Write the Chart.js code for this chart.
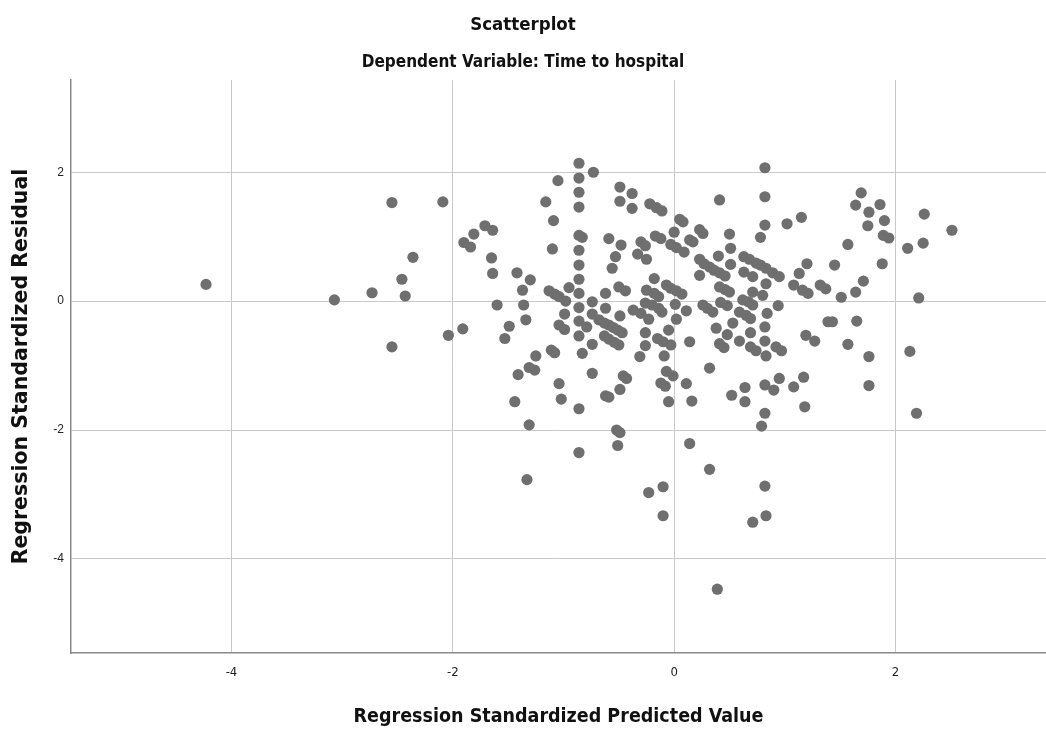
<!DOCTYPE html>
<html>
<head>
<meta charset="utf-8">
<title>Scatterplot</title>
<script src="https://cdn.jsdelivr.net/npm/chart.js@4"></script>
<style>
  html, body { margin: 0; padding: 0; background: #fff; }
  #wrap { width: 1046px; height: 729px; }
</style>
</head>
<body>
<div id="wrap"><canvas id="scatter" width="1046" height="729"></canvas></div>
<script>
// Regression Standardized Predicted Value (x), one line per region of the plot
let predicted = [
  -4.23, -3.07, -2.73, -2.55, -2.55, -2.46, -2.43, -2.36, -2.09, -2.04, -1.91, -1.90, -1.84, -1.81, -1.71, -1.64, -1.65, -1.64, -1.60, -1.42, -1.37, -1.30, -1.36, -1.34, -1.16, -1.05, -1.09, -1.10, -1.13, -1.08, -1.04, -0.98, -0.95, -0.99, -1.49, -1.53, -1.25, -1.41, -1.31, -1.26, -1.44, -1.31, -1.33, -1.11, -1.08, -1.04, -0.99, -1.04, -1.02,
  -0.86, -0.86, -0.86, -0.86, -0.86, -0.86, -0.86, -0.86, -0.86, -0.86, -0.86, -0.86, -0.86, -0.86, -0.83, -0.83, -0.73, -0.74, -0.74, -0.79, -0.74, -0.74, -0.62, -0.62, -0.59, -0.56, -0.53, -0.48, -0.49, -0.49, -0.38, -0.38, -0.50, -0.44, -0.49, -0.37, -0.30, -0.30, -0.33, -0.26, -0.22, -0.25, -0.25, -0.26, -0.68, -0.63, -0.59, -0.55, -0.51, -0.47, -0.63, -0.59, -0.54, -0.50, -0.31, -0.26, -0.26, -0.46, -0.43, -0.49, -0.62, -0.59, -0.52, -0.49, -0.51,
  -0.16, -0.11, 0.05, 0.08, 0.00, 0.23, 0.26, 0.14, 0.17, -0.17, -0.12, -0.03, 0.02, 0.09, -0.18, -0.18, -0.14, -0.07, -0.03, 0.02, 0.07, -0.20, -0.11, 0.01, 0.11, -0.14, -0.23, 0.02, -0.05, -0.15, -0.10, -0.03, -0.09, 0.14, -0.07, -0.01, -0.12, -0.08, -0.05, 0.11, 0.16, 0.14, -0.23, -0.10, -0.10,
  0.41, 0.50, 0.51, 0.40, 0.51, 0.23, 0.27, 0.32, 0.36, 0.41, 0.46, 0.23, 0.41, 0.46, 0.50, 0.42, 0.48, 0.26, 0.30, 0.35, 0.32, 0.38, 0.41, 0.45, 0.48, 0.53, 0.52, 0.32, 0.39, 0.82, 0.82, 0.82, 0.78, 0.63, 0.68, 0.74, 0.78, 0.83, 0.89, 0.95, 0.63, 0.71, 0.83, 0.71, 0.80, 0.62, 0.67, 0.71, 0.59, 0.65, 0.69, 0.84, 0.94, 0.59, 0.69, 0.69, 0.74, 0.82, 0.82, 0.83, 0.92, 0.97, 0.64, 0.64, 0.82, 0.90, 0.95, 0.82, 0.79, 0.82, 0.83, 0.71,
  1.02, 1.15, 1.20, 1.13, 1.08, 1.16, 1.21, 1.32, 1.37, 1.19, 1.27, 1.39, 1.08, 1.17, 1.18, 1.69, 1.64, 1.76, 1.86, 1.75, 1.90, 1.89, 1.94, 1.57, 1.45, 1.88, 1.71, 1.64, 1.51, 2.26, 2.51, 2.11, 2.25, 2.21, 1.43, 1.65, 1.57, 1.76, 1.76, 2.13, 2.19
];

// Regression Standardized Residual (y), same order as predicted
let residual = [
  0.26, 0.02, 0.13, 1.53, -0.71, 0.34, 0.08, 0.68, 1.54, -0.53, -0.43, 0.91, 0.84, 1.04, 1.17, 1.10, 0.67, 0.43, -0.06, 0.44, 0.17, 0.33, -0.06, -0.29, 1.54, 1.87, 1.25, 0.81, 0.16, 0.11, 0.07, 0.00, 0.21, -0.20, -0.39, -0.58, -0.85, -1.14, -1.03, -1.07, -1.56, -1.92, -2.77, -0.76, -0.80, -0.37, -0.44, -1.28, -1.52,
  2.14, 1.91, 1.69, 1.46, 1.02, 0.79, 0.56, 0.34, 0.12, -0.10, -0.31, -0.54, -1.67, -2.35, 0.99, -0.81, 2.00, -0.01, -0.20, -0.40, -0.67, -1.12, 0.12, -0.11, 0.97, 0.51, 0.69, 0.87, 1.77, 1.55, 1.67, 1.44, 0.22, 0.16, -0.23, -0.14, -0.19, 0.92, 0.73, 0.86, 1.51, 0.65, 0.17, -0.03, -0.29, -0.34, -0.37, -0.41, -0.45, -0.49, -0.54, -0.59, -0.64, -0.68, -0.86, -0.49, -0.69, -1.16, -1.20, -1.37, -1.47, -1.49, -2.00, -2.04, -2.24,
  1.45, 1.40, 1.27, 1.23, 1.07, 1.11, 1.05, 0.95, 0.92, 1.01, 0.97, 0.88, 0.83, 0.76, 0.35, 0.12, 0.07, 0.25, 0.20, 0.16, 0.11, -0.06, -0.17, -0.05, -0.15, -0.11, -0.28, -0.28, -0.45, -0.58, -0.63, -0.68, -0.85, -0.63, -1.09, -1.16, -1.27, -1.32, -1.56, -1.28, -1.55, -2.21, -2.97, -2.88, -3.33,
  1.57, 1.04, 0.82, 0.70, 0.57, 0.65, 0.58, 0.53, 0.48, 0.44, 0.39, 0.40, 0.22, 0.18, 0.14, -0.02, -0.07, -0.06, -0.11, -0.17, -1.04, -0.42, -0.66, -0.72, -0.52, -0.34, -1.46, -2.61, -4.47, 2.07, 1.62, 1.18, 0.99, 0.69, 0.65, 0.59, 0.56, 0.51, 0.44, 0.38, 0.45, 0.38, 0.27, 0.14, 0.09, 0.02, -0.01, -0.06, -0.17, -0.22, -0.27, -0.19, -0.07, -0.62, -0.49, -0.71, -0.77, -0.40, -0.62, -0.85, -0.71, -0.77, -1.34, -1.56, -1.30, -1.38, -1.20, -1.74, -1.94, -2.87, -3.33, -3.43,
  1.20, 1.30, 0.58, 0.43, 0.25, 0.17, 0.12, 0.25, 0.19, -0.53, -0.62, -0.32, -1.33, -1.18, -1.64, 1.68, 1.49, 1.38, 1.50, 1.17, 1.25, 1.02, 0.98, 0.88, 0.56, 0.58, 0.31, 0.14, 0.06, 1.35, 1.10, 0.82, 0.90, 0.05, -0.32, -0.31, -0.67, -0.86, -1.31, -0.78, -1.74
];

let xTicks = [-4, -2, 0, 2];
let yTicks = [-4, -2, 0, 2];

let points = predicted.map(function(x, i) {
  return { x: x, y: residual[i] };
});

let narrow = "'Liberation Sans Narrow', 'DejaVu Sans Condensed', 'Arial Narrow', sans-serif";
let wide = "'DejaVu Sans', Verdana, sans-serif";
let plain = "'Liberation Sans', Arial, sans-serif";

let ctx = document.getElementById("scatter").getContext("2d");
let scatterChart = new Chart(ctx, {
  type: "scatter",
  data: {
    datasets: [
      {
        label: "Residuals",
        data: points,
        backgroundColor: "#6f6f6f",
        borderWidth: 0,
        pointRadius: 5.6,
        pointHoverRadius: 5.6
      }
    ]
  },
  options: {
    responsive: false,
    animation: false,
    layout: { padding: 0, autoPadding: false },
    plugins: {
      legend: { display: false },
      tooltip: { enabled: false },
      title: {
        display: true,
        text: "Scatterplot",
        color: "#111",
        font: { family: narrow, size: 18.5, weight: "bold", lineHeight: 1.2 },
        padding: { top: 14, bottom: 16 }
      },
      subtitle: {
        display: true,
        text: "Dependent Variable: Time to hospital",
        color: "#111",
        font: { family: narrow, size: 17, weight: "bold", lineHeight: 1.2 },
        padding: { top: 0, bottom: 7.5 }
      }
    },
    scales: {
      x: {
        type: "linear",
        min: -5.45,
        max: 3.36,
        afterFit: function(scale) { scale.height = 76; },
        afterBuildTicks: function(scale) {
          scale.ticks = xTicks.map(function(v) { return { value: v }; });
        },
        grid: { color: "#c9c9c9", lineWidth: 1, drawTicks: false },
        border: { display: true, color: "#8a8a8a", width: 1.5 },
        ticks: {
          padding: 12,
          color: "#222",
          font: { family: narrow, size: 13 }
        },
        title: {
          display: true,
          text: "Regression Standardized Predicted Value",
          color: "#111",
          font: { family: narrow, size: 19.5, weight: "bold", lineHeight: 1.2 },
          padding: { top: 0, bottom: 0 }
        }
      },
      y: {
        type: "linear",
        min: -5.46,
        max: 3.43,
        afterFit: function(scale) { scale.width = 71; },
        afterBuildTicks: function(scale) {
          scale.ticks = yTicks.map(function(v) { return { value: v }; });
        },
        grid: { color: "#c9c9c9", lineWidth: 1, drawTicks: false },
        border: { display: true, color: "#8a8a8a", width: 1.5 },
        ticks: {
          padding: 7,
          color: "#222",
          font: { family: plain, size: 12 }
        },
        title: {
          display: true,
          text: "Regression Standardized Residual",
          color: "#111",
          font: { family: wide, size: 20.5, weight: "bold", lineHeight: 1.2 },
          padding: { top: 9, bottom: 0 }
        }
      }
    }
  }
});
</script>
</body>
</html>
